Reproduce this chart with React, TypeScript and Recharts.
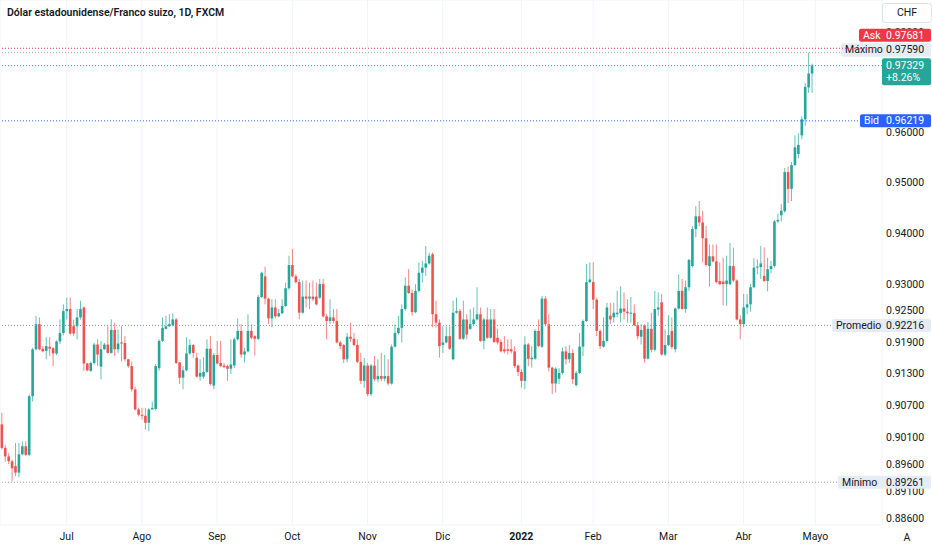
import React from 'react';
import { ComposedChart, Bar, XAxis, YAxis, CartesianGrid, ReferenceLine } from 'recharts';

// USD/CHF daily candles (Jun 2021 - May 2022)
const OPEN = [
  0.9034, 0.8990, 0.8974, 0.8965, 0.8956, 0.8944, 0.8978, 0.8993, 0.8977, 0.9087,
  0.9176, 0.9224, 0.9177, 0.9173, 0.9181, 0.9178, 0.9168, 0.9191, 0.9207, 0.9249,
  0.9253, 0.9220, 0.9220, 0.9237, 0.9256, 0.9149, 0.9135, 0.9150, 0.9185, 0.9143,
  0.9176, 0.9185, 0.9169, 0.9213, 0.9176, 0.9189, 0.9188, 0.9157, 0.9144, 0.9100,
  0.9062, 0.9052, 0.9050, 0.9037, 0.9062, 0.9063, 0.9140, 0.9192, 0.9215, 0.9220,
  0.9222, 0.9233, 0.9151, 0.9122, 0.9136, 0.9168, 0.9184, 0.9160, 0.9124, 0.9124,
  0.9133, 0.9177, 0.9107, 0.9165, 0.9150, 0.9145, 0.9144, 0.9139, 0.9145, 0.9195,
  0.9211, 0.9166, 0.9172, 0.9211, 0.9201, 0.9196, 0.9276, 0.9316, 0.9273, 0.9235,
  0.9256, 0.9239, 0.9245, 0.9259, 0.9293, 0.9338, 0.9316, 0.9305, 0.9246, 0.9277,
  0.9273, 0.9277, 0.9277, 0.9275, 0.9301, 0.9239, 0.9230, 0.9237, 0.9230, 0.9189,
  0.9184, 0.9157, 0.9200, 0.9196, 0.9184, 0.9152, 0.9116, 0.9145, 0.9091, 0.9145,
  0.9119, 0.9125, 0.9120, 0.9125, 0.9111, 0.9181, 0.9207, 0.9217, 0.9253, 0.9298,
  0.9284, 0.9247, 0.9288, 0.9323, 0.9333, 0.9341, 0.9359, 0.9243, 0.9227, 0.9184,
  0.9189, 0.9201, 0.9157, 0.9246, 0.9249, 0.9196, 0.9233, 0.9215, 0.9224, 0.9233,
  0.9243, 0.9192, 0.9233, 0.9198, 0.9233, 0.9198, 0.9190, 0.9176, 0.9176, 0.9176,
  0.9172, 0.9145, 0.9133, 0.9116, 0.9185, 0.9157, 0.9158, 0.9211, 0.9181, 0.9273,
  0.9224, 0.9141, 0.9111, 0.9120, 0.9131, 0.9172, 0.9157, 0.9169, 0.9108, 0.9131,
  0.9181, 0.9230, 0.9305, 0.9305, 0.9271, 0.9211, 0.9181, 0.9192, 0.9240, 0.9237,
  0.9243, 0.9245, 0.9254, 0.9248, 0.9244, 0.9245, 0.9222, 0.9200, 0.9222, 0.9158,
  0.9215, 0.9175, 0.9252, 0.9266, 0.9166, 0.9184, 0.9211, 0.9176, 0.9254, 0.9288,
  0.9253, 0.9295, 0.9336, 0.9408, 0.9433, 0.9421, 0.9390, 0.9336, 0.9355, 0.9345,
  0.9307, 0.9306, 0.9301, 0.9301, 0.9336, 0.9308, 0.9233, 0.9224, 0.9256, 0.9262,
  0.9295, 0.9333, 0.9334, 0.9317, 0.9307, 0.9330, 0.9336, 0.9423, 0.9435, 0.9443,
  0.9520, 0.9487, 0.9534, 0.9556, 0.9593, 0.9625, 0.9689, 0.9717,
];

const HIGH = [
  0.9056, 0.8995, 0.8980, 0.8968, 0.8999, 0.8999, 0.9002, 0.9002, 0.9090, 0.9179,
  0.9240, 0.9237, 0.9182, 0.9199, 0.9199, 0.9180, 0.9193, 0.9233, 0.9262, 0.9275,
  0.9275, 0.9233, 0.9253, 0.9269, 0.9258, 0.9150, 0.9153, 0.9188, 0.9195, 0.9192,
  0.9188, 0.9220, 0.9233, 0.9227, 0.9214, 0.9220, 0.9201, 0.9157, 0.9153, 0.9105,
  0.9065, 0.9065, 0.9065, 0.9065, 0.9077, 0.9148, 0.9195, 0.9237, 0.9240, 0.9243,
  0.9245, 0.9236, 0.9152, 0.9144, 0.9199, 0.9195, 0.9186, 0.9169, 0.9157, 0.9161,
  0.9195, 0.9201, 0.9169, 0.9192, 0.9192, 0.9150, 0.9147, 0.9195, 0.9198, 0.9235,
  0.9224, 0.9179, 0.9243, 0.9224, 0.9203, 0.9280, 0.9325, 0.9335, 0.9275, 0.9272,
  0.9272, 0.9253, 0.9272, 0.9304, 0.9356, 0.9369, 0.9320, 0.9311, 0.9308, 0.9308,
  0.9304, 0.9308, 0.9304, 0.9311, 0.9311, 0.9243, 0.9272, 0.9253, 0.9253, 0.9192,
  0.9186, 0.9207, 0.9227, 0.9207, 0.9195, 0.9169, 0.9160, 0.9150, 0.9148, 0.9163,
  0.9157, 0.9169, 0.9165, 0.9157, 0.9185, 0.9224, 0.9240, 0.9262, 0.9314, 0.9330,
  0.9291, 0.9301, 0.9343, 0.9346, 0.9375, 0.9362, 0.9362, 0.9269, 0.9233, 0.9220,
  0.9220, 0.9220, 0.9269, 0.9275, 0.9253, 0.9269, 0.9243, 0.9253, 0.9256, 0.9295,
  0.9256, 0.9236, 0.9256, 0.9253, 0.9253, 0.9215, 0.9195, 0.9201, 0.9195, 0.9195,
  0.9182, 0.9147, 0.9138, 0.9201, 0.9188, 0.9182, 0.9214, 0.9233, 0.9278, 0.9278,
  0.9243, 0.9143, 0.9142, 0.9140, 0.9179, 0.9182, 0.9184, 0.9176, 0.9135, 0.9207,
  0.9233, 0.9340, 0.9343, 0.9343, 0.9275, 0.9214, 0.9237, 0.9265, 0.9265, 0.9265,
  0.9288, 0.9297, 0.9285, 0.9272, 0.9276, 0.9262, 0.9228, 0.9224, 0.9224, 0.9228,
  0.9246, 0.9288, 0.9285, 0.9282, 0.9214, 0.9241, 0.9237, 0.9256, 0.9320, 0.9311,
  0.9308, 0.9350, 0.9414, 0.9453, 0.9463, 0.9444, 0.9414, 0.9378, 0.9378, 0.9378,
  0.9343, 0.9352, 0.9356, 0.9381, 0.9372, 0.9310, 0.9241, 0.9282, 0.9282, 0.9301,
  0.9351, 0.9349, 0.9375, 0.9372, 0.9352, 0.9346, 0.9426, 0.9438, 0.9457, 0.9528,
  0.9531, 0.9540, 0.9593, 0.9597, 0.9631, 0.9698, 0.9759, 0.9737,
];

const LOW = [
  0.8987, 0.8964, 0.8960, 0.8928, 0.8937, 0.8935, 0.8976, 0.8975, 0.8975, 0.9077,
  0.9174, 0.9174, 0.9170, 0.9157, 0.9163, 0.9144, 0.9165, 0.9186, 0.9203, 0.9233,
  0.9204, 0.9201, 0.9195, 0.9233, 0.9135, 0.9134, 0.9133, 0.9147, 0.9144, 0.9119,
  0.9175, 0.9168, 0.9168, 0.9163, 0.9169, 0.9153, 0.9153, 0.9141, 0.9096, 0.9060,
  0.9049, 0.9043, 0.9024, 0.9021, 0.9062, 0.9060, 0.9135, 0.9190, 0.9214, 0.9219,
  0.9220, 0.9148, 0.9110, 0.9100, 0.9134, 0.9166, 0.9160, 0.9122, 0.9116, 0.9120,
  0.9131, 0.9107, 0.9100, 0.9147, 0.9142, 0.9140, 0.9116, 0.9129, 0.9140, 0.9193,
  0.9160, 0.9151, 0.9170, 0.9195, 0.9164, 0.9194, 0.9274, 0.9262, 0.9224, 0.9218,
  0.9235, 0.9237, 0.9243, 0.9257, 0.9290, 0.9314, 0.9302, 0.9233, 0.9244, 0.9256,
  0.9253, 0.9268, 0.9260, 0.9272, 0.9237, 0.9195, 0.9224, 0.9226, 0.9187, 0.9176,
  0.9150, 0.9151, 0.9190, 0.9182, 0.9150, 0.9110, 0.9103, 0.9087, 0.9087, 0.9115,
  0.9113, 0.9115, 0.9115, 0.9107, 0.9109, 0.9179, 0.9204, 0.9189, 0.9250, 0.9282,
  0.9240, 0.9245, 0.9285, 0.9304, 0.9317, 0.9339, 0.9218, 0.9218, 0.9160, 0.9169,
  0.9187, 0.9175, 0.9155, 0.9244, 0.9194, 0.9194, 0.9195, 0.9213, 0.9222, 0.9231,
  0.9190, 0.9176, 0.9196, 0.9196, 0.9188, 0.9185, 0.9170, 0.9168, 0.9166, 0.9168,
  0.9140, 0.9125, 0.9103, 0.9100, 0.9144, 0.9141, 0.9156, 0.9180, 0.9179, 0.9220,
  0.9134, 0.9091, 0.9094, 0.9110, 0.9128, 0.9147, 0.9150, 0.9110, 0.9105, 0.9129,
  0.9163, 0.9228, 0.9303, 0.9253, 0.9201, 0.9176, 0.9179, 0.9189, 0.9224, 0.9227,
  0.9237, 0.9227, 0.9233, 0.9227, 0.9227, 0.9220, 0.9195, 0.9185, 0.9151, 0.9157,
  0.9170, 0.9172, 0.9240, 0.9164, 0.9163, 0.9182, 0.9176, 0.9170, 0.9252, 0.9252,
  0.9246, 0.9288, 0.9333, 0.9392, 0.9414, 0.9343, 0.9335, 0.9296, 0.9343, 0.9303,
  0.9299, 0.9260, 0.9259, 0.9299, 0.9305, 0.9231, 0.9195, 0.9218, 0.9243, 0.9248,
  0.9293, 0.9320, 0.9311, 0.9305, 0.9287, 0.9322, 0.9333, 0.9420, 0.9423, 0.9440,
  0.9459, 0.9463, 0.9532, 0.9547, 0.9585, 0.9612, 0.9678, 0.9678,
];

const CLOSE = [
  0.8990, 0.8974, 0.8965, 0.8952, 0.8944, 0.8978, 0.8993, 0.8977, 0.9087, 0.9176,
  0.9224, 0.9176, 0.9172, 0.9182, 0.9177, 0.9168, 0.9191, 0.9207, 0.9249, 0.9253,
  0.9206, 0.9206, 0.9237, 0.9253, 0.9149, 0.9136, 0.9150, 0.9185, 0.9166, 0.9176,
  0.9185, 0.9169, 0.9213, 0.9176, 0.9187, 0.9187, 0.9157, 0.9144, 0.9100, 0.9062,
  0.9052, 0.9050, 0.9037, 0.9062, 0.9065, 0.9144, 0.9192, 0.9217, 0.9220, 0.9224,
  0.9233, 0.9150, 0.9122, 0.9136, 0.9168, 0.9184, 0.9169, 0.9124, 0.9131, 0.9133,
  0.9177, 0.9110, 0.9165, 0.9149, 0.9144, 0.9142, 0.9139, 0.9147, 0.9195, 0.9211,
  0.9166, 0.9172, 0.9211, 0.9198, 0.9196, 0.9276, 0.9323, 0.9273, 0.9235, 0.9256,
  0.9239, 0.9245, 0.9259, 0.9293, 0.9338, 0.9316, 0.9305, 0.9246, 0.9277, 0.9273,
  0.9277, 0.9272, 0.9262, 0.9301, 0.9239, 0.9230, 0.9237, 0.9230, 0.9189, 0.9182,
  0.9157, 0.9200, 0.9196, 0.9184, 0.9152, 0.9116, 0.9145, 0.9091, 0.9145, 0.9119,
  0.9125, 0.9120, 0.9125, 0.9111, 0.9181, 0.9207, 0.9217, 0.9253, 0.9298, 0.9284,
  0.9247, 0.9288, 0.9323, 0.9333, 0.9341, 0.9356, 0.9243, 0.9227, 0.9182, 0.9189,
  0.9201, 0.9177, 0.9246, 0.9249, 0.9196, 0.9233, 0.9204, 0.9224, 0.9233, 0.9243,
  0.9192, 0.9233, 0.9198, 0.9233, 0.9190, 0.9189, 0.9172, 0.9172, 0.9173, 0.9172,
  0.9144, 0.9133, 0.9116, 0.9185, 0.9158, 0.9160, 0.9211, 0.9182, 0.9273, 0.9224,
  0.9141, 0.9111, 0.9139, 0.9131, 0.9172, 0.9157, 0.9169, 0.9119, 0.9131, 0.9181,
  0.9230, 0.9305, 0.9310, 0.9271, 0.9211, 0.9182, 0.9192, 0.9256, 0.9233, 0.9246,
  0.9246, 0.9254, 0.9248, 0.9245, 0.9246, 0.9222, 0.9201, 0.9213, 0.9158, 0.9215,
  0.9175, 0.9253, 0.9256, 0.9166, 0.9184, 0.9203, 0.9180, 0.9254, 0.9288, 0.9253,
  0.9295, 0.9348, 0.9408, 0.9433, 0.9421, 0.9390, 0.9338, 0.9355, 0.9345, 0.9305,
  0.9301, 0.9301, 0.9308, 0.9336, 0.9308, 0.9233, 0.9224, 0.9256, 0.9262, 0.9295,
  0.9333, 0.9335, 0.9341, 0.9307, 0.9330, 0.9336, 0.9423, 0.9426, 0.9444, 0.9520,
  0.9487, 0.9534, 0.9569, 0.9574, 0.9625, 0.9690, 0.9717, 0.9733,
];

// x axis: candle slot where each month starts
const MONTH_TICKS = [19, 41, 63, 85, 107, 129, 152, 173, 195, 217, 238];
const MONTH_LABELS = ['Jul', 'Ago', 'Sep', 'Oct', 'Nov', 'Dic', '2022', 'Feb', 'Mar', 'Abr', 'Mayo'];
const PRICE_TICKS = [0.886, 0.891, 0.896, 0.901, 0.907, 0.913, 0.919, 0.925, 0.93, 0.94, 0.95, 0.96, 0.97, 0.98];
const HIDDEN_PRICE_TICKS = [0.97];

const ASK = 0.97681;
const BID = 0.96219;
const LAST = 0.97329;
const CHANGE = '+8.26%';
const MAXIMO = 0.9759;
const PROMEDIO = 0.92216;
const MINIMO = 0.89261;

const SLOTS = 258; // candles plus empty space on the right
const UP = '#26a69a';
const DOWN = '#ef5350';
const TEXT = '#131722';
const FONT = 'Roboto, "Noto Sans", sans-serif';

const data = Array.from({ length: SLOTS }, (_, i) => {
  if (i >= OPEN.length) return { i, range: null };
  const o = OPEN[i], c = CLOSE[i];
  const h = Math.max(HIGH[i], o, c), l = Math.min(LOW[i], o, c);
  return { i, o, h, l, c, range: [l, h] };
});

const Candle = (props: any) => {
  const { x, y, width, height, payload } = props;
  if (!payload || payload.o == null || !isFinite(y) || !isFinite(height)) return null;
  const top = Math.min(y, y + height);
  const hgt = Math.abs(height);
  const lnH = Math.log(payload.h), lnL = Math.log(payload.l);
  const span = lnH - lnL || 1;
  const py = (p: number) => top + (hgt * (lnH - Math.log(p))) / span;
  const cx = x + width / 2;
  const color = payload.c >= payload.o ? UP : DOWN;
  const yo = py(payload.o), yc = py(payload.c);
  const bt = Math.min(yo, yc);
  const bh = Math.max(1, Math.abs(yc - yo));
  return (
    <g>
      <line x1={cx} x2={cx} y1={top} y2={top + hgt} stroke={color} strokeOpacity={0.7} strokeWidth={1} />
      <rect x={cx - 1.3} y={bt} width={2.6} height={bh} fill={color} />
    </g>
  );
};

const MonthTick = (props: any) => {
  const { x, y, payload } = props;
  const idx = MONTH_TICKS.indexOf(payload.value);
  const label = MONTH_LABELS[idx] ?? '';
  return (
    <text x={x} y={y} dy="0.71em" textAnchor="middle" fontSize={10.5} fill={TEXT} fontFamily={FONT}
      fontWeight={label === '2022' ? 700 : 400}>
      {label}
    </text>
  );
};

// price scale label, placed by the y scale through a reference line
const priceLabel = (value: number) => (p: any) => {
  const vb = p.viewBox || {};
  return (
    <text x={vb.x + vb.width + 4} y={vb.y} dy="0.355em" fontSize={10.5} fill={TEXT} fontFamily={FONT}>
      {value.toFixed(5)}
    </text>
  );
};

// price tag drawn on the price scale, anchored on the reference line
const tag = (opts: { left: number; dy: number; h: number; bg: string; fg: string; name?: string; value: number; sub?: string }) =>
  (p: any) => {
    const vb = p.viewBox || {};
    const right = vb.x + vb.width;
    const top = vb.y + opts.dy;
    const boxLeft = right + opts.left;
    return (
      <g fontFamily={FONT} fontSize={10.5}>
        <rect x={boxLeft} y={top} width={931 - boxLeft} height={opts.h} rx={2} fill={opts.bg} />
        {opts.name && (
          <text x={boxLeft + 4} y={top + opts.h / 2} dominantBaseline="central" fill={opts.fg}>{opts.name}</text>
        )}
        <text x={right + 4} y={top + (opts.sub ? 7 : opts.h / 2)} dominantBaseline="central" fill={opts.fg}>
          {opts.value.toFixed(5)}
        </text>
        {opts.sub && (
          <text x={right + 4} y={top + 19.5} dominantBaseline="central" fill={opts.fg}>{opts.sub}</text>
        )}
      </g>
    );
  };

export default function App() {
  return (
    <div style={{ position: 'absolute', left: 0, top: 0, width: 932, height: 550, background: '#fff', fontFamily: FONT, overflow: 'hidden' }}>
      <ComposedChart width={932} height={550} data={data} margin={{ top: 0, right: 0, bottom: 0, left: 0 }} barCategoryGap="10%">
        <CartesianGrid stroke="#f0f3fa" />
        <XAxis dataKey="i" type="category" ticks={MONTH_TICKS} interval={0} tick={<MonthTick />}
          axisLine={false} tickLine={false} height={25} tickSize={4} tickMargin={4} />
        <YAxis orientation="right" type="number" scale="log" domain={[0.88471, 0.98665]} allowDataOverflow
          ticks={PRICE_TICKS} tick={false} axisLine={false} tickLine={false} width={50} />
        <Bar dataKey="range" shape={<Candle />} isAnimationActive={false} />
        {PRICE_TICKS.filter((t) => !HIDDEN_PRICE_TICKS.includes(t)).map((t) => (
          <ReferenceLine key={t} y={t} stroke="none" label={priceLabel(t)} />
        ))}
        <ReferenceLine y={PROMEDIO} stroke="#9598a1" strokeDasharray="1 2"
          label={tag({ left: -50, dy: -6.5, h: 13, bg: '#e6ecf5', fg: TEXT, name: 'Promedio', value: PROMEDIO })} />
        <ReferenceLine y={MINIMO} stroke="#9598a1" strokeDasharray="1 2"
          label={tag({ left: -44, dy: -6.5, h: 13, bg: '#e6ecf5', fg: TEXT, name: 'Mínimo', value: MINIMO })} />
        <ReferenceLine y={BID} stroke="#2962ff" strokeDasharray="1 2"
          label={tag({ left: -22, dy: -6.5, h: 13, bg: '#2962ff', fg: '#fff', name: 'Bid', value: BID })} />
        <ReferenceLine y={LAST} stroke={UP} strokeDasharray="1 2"
          label={tag({ left: 0, dy: -7.5, h: 27, bg: UP, fg: '#fff', value: LAST, sub: CHANGE })} />
        <ReferenceLine y={MAXIMO} stroke="#9598a1" strokeDasharray="1 2"
          label={tag({ left: -41, dy: -9.5, h: 13.5, bg: '#e6ecf5', fg: TEXT, name: 'Máximo', value: MAXIMO })} />
        <ReferenceLine y={ASK} stroke="#f23645" strokeDasharray="1 2"
          label={tag({ left: -23, dy: -19.5, h: 13, bg: '#f23645', fg: '#fff', name: 'Ask', value: ASK })} />
      </ComposedChart>
      <div style={{ position: 'absolute', left: 7, top: 6, fontSize: 10.5, fontWeight: 600, color: TEXT, whiteSpace: 'nowrap' }}>
        Dólar estadounidense/Franco suizo, 1D, FXCM
      </div>
      <div style={{ position: 'absolute', left: 882, top: 3, width: 48, height: 18, border: '1px solid #e0e3eb', borderRadius: 3,
        fontSize: 10.5, color: TEXT, textAlign: 'center', lineHeight: '18px', background: '#fff' }}>
        CHF
      </div>
      <div style={{ position: 'absolute', left: 882, top: 528, width: 50, height: 20, fontSize: 10.5, color: TEXT, textAlign: 'center', lineHeight: '20px' }}>
        A
      </div>
    </div>
  );
}
